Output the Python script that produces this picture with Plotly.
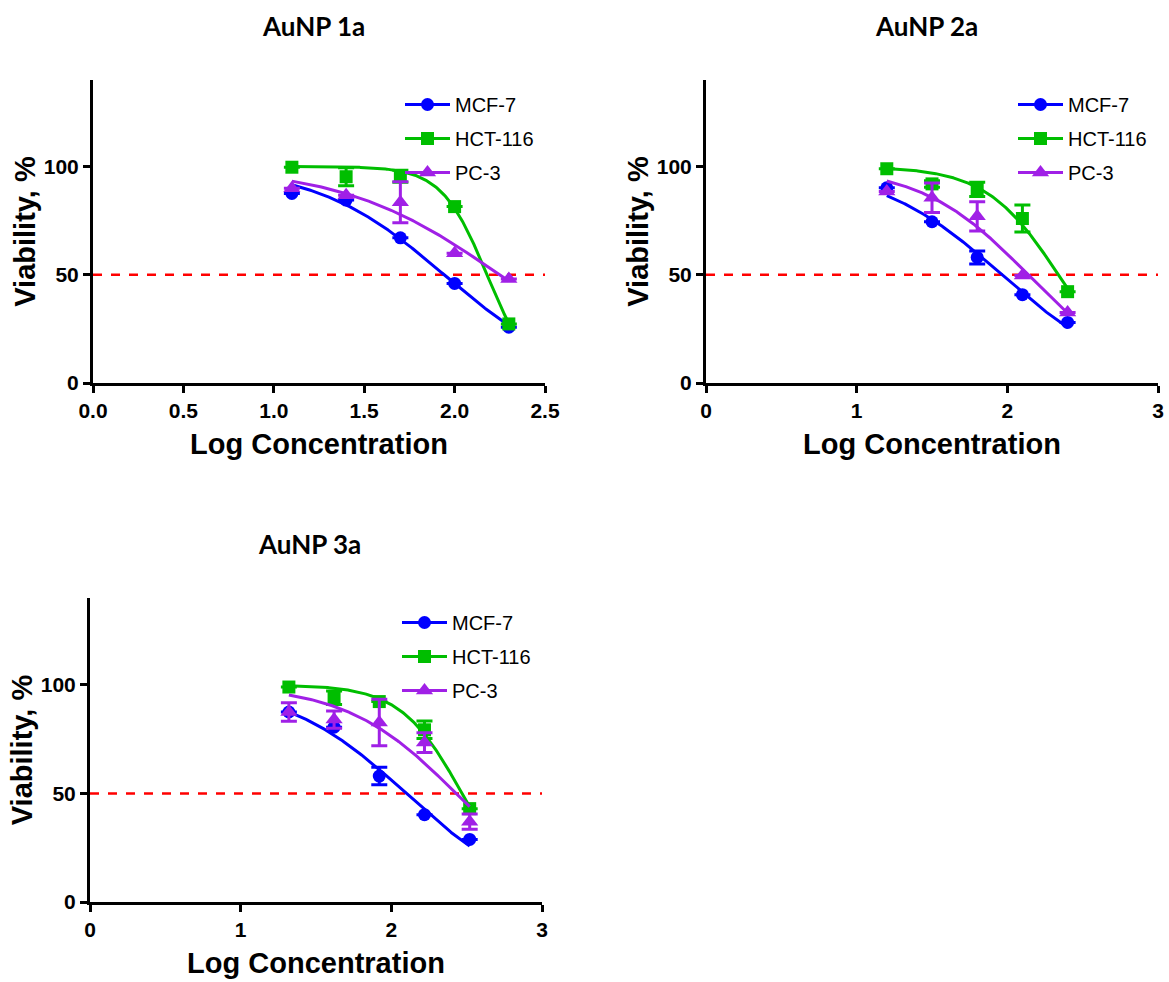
import numpy as np
import plotly.graph_objects as go

# ---- data -------------------------------------------------------------
CELL_LINES = ["MCF-7", "HCT-116", "PC-3"]
PANEL_TITLES = ["AuNP 1a", "AuNP 2a", "AuNP 3a"]

# log concentration for each panel
logc_1a = [1.1, 1.4, 1.7, 2.0, 2.3]
logc_2a = [1.2, 1.5, 1.8, 2.1, 2.4]
logc_3a = [1.32, 1.62, 1.92, 2.22, 2.52]

# mean viability (%) and error (SEM); None where the bar is hidden by the symbol
mcf7_1a = [87.6, 84.5, 67.1, 46.0, 25.8]
mcf7_1a_err = [None, None, None, None, None]
hct116_1a = [99.7, 95.3, 95.5, 81.5, 27.3]
hct116_1a_err = [None, 4.2, 2.8, None, None]
pc3_1a = [90.0, 86.8, 83.5, 60.0, 48.0]
pc3_1a_err = [None, None, 9.5, None, None]

mcf7_2a = [90.2, 74.5, 58.0, 40.8, 28.0]
mcf7_2a_err = [None, None, 3.0, None, None]
hct116_2a = [99.0, 92.0, 89.5, 76.0, 42.2]
hct116_2a_err = [None, 1.5, 3.3, 6.2, None]
pc3_2a = [88.5, 85.6, 77.0, 49.7, 32.6]
pc3_2a_err = [None, 6.8, 6.8, None, None]

mcf7_3a = [87.5, 80.5, 58.0, 40.2, 28.8]
mcf7_3a_err = [None, None, 4.0, None, None]
hct116_3a = [99.0, 94.1, 92.3, 79.3, 43.0]
hct116_3a_err = [None, 3.1, None, 4.0, None]
pc3_3a = [87.5, 84.0, 82.7, 73.4, 37.0]
pc3_3a_err = [4.3, 4.0, 10.7, 4.5, 3.5]

X_TICKS_1a = [0.0, 0.5, 1.0, 1.5, 2.0, 2.5]
X_TICKS_23 = [0, 1, 2, 3]
Y_TICKS = [0, 50, 100]
THRESHOLD = 50

# ---- styling ----------------------------------------------------------
COLORS = {"MCF-7": "rgb(0,0,255)", "HCT-116": "rgb(0,190,0)", "PC-3": "rgb(160,32,230)"}
SYMBOLS = {"MCF-7": "circle", "HCT-116": "square", "PC-3": "triangle-up"}
SIZES = {"MCF-7": 13, "HCT-116": 13, "PC-3": 15}
W, H = 1169, 982


def fit_inhibition(x, y):
    """Least-squares fit of log(inhibitor) vs response (top 100, bottom 0)."""
    x = np.asarray(x, float)
    y = np.asarray(y, float)
    c_grid = np.linspace(0.5, 4.0, 701)
    h_grid = np.linspace(0.2, 8.0, 781)
    for _ in range(2):
        c = c_grid[:, None, None]
        h = h_grid[None, :, None]
        pred = 100.0 / (1.0 + 10.0 ** ((x[None, None, :] - c) * h))
        sse = ((pred - y) ** 2).sum(-1)
        i, j = np.unravel_index(np.argmin(sse), sse.shape)
        bc, bh = c_grid[i], h_grid[j]
        dc, dh = c_grid[1] - c_grid[0], h_grid[1] - h_grid[0]
        c_grid = np.linspace(bc - dc, bc + dc, 201)
        h_grid = np.linspace(max(bh - dh, 0.01), bh + dh, 201)
    xs = np.linspace(x.min(), x.max(), 200)
    return xs, 100.0 / (1.0 + 10.0 ** ((xs - bc) * bh))


panels = [
    dict(x=logc_1a, series={"MCF-7": (mcf7_1a, mcf7_1a_err),
                            "HCT-116": (hct116_1a, hct116_1a_err),
                            "PC-3": (pc3_1a, pc3_1a_err)},
         xrange=[0, 2.5], xticks=X_TICKS_1a, fmt=".1f",
         dom_x=(93, 545), dom_y=(80, 383)),
    dict(x=logc_2a, series={"MCF-7": (mcf7_2a, mcf7_2a_err),
                            "HCT-116": (hct116_2a, hct116_2a_err),
                            "PC-3": (pc3_2a, pc3_2a_err)},
         xrange=[0, 3], xticks=X_TICKS_23, fmt="d",
         dom_x=(706, 1158), dom_y=(80, 383)),
    dict(x=logc_3a, series={"MCF-7": (mcf7_3a, mcf7_3a_err),
                            "HCT-116": (hct116_3a, hct116_3a_err),
                            "PC-3": (pc3_3a, pc3_3a_err)},
         xrange=[0, 3], xticks=X_TICKS_23, fmt="d",
         dom_x=(90, 542), dom_y=(598, 902)),
]

fig = go.Figure()
layout = dict(width=W, height=H, margin=dict(l=0, r=0, t=0, b=0, autoexpand=False),
              paper_bgcolor="white", plot_bgcolor="white", showlegend=True,
              annotations=[], shapes=[])

tick_font = dict(family="Liberation Sans, Arial", size=21, color="black", weight="bold")
title_font = dict(family="Liberation Sans, Arial", size=29, color="black", weight="bold")

for k, p in enumerate(panels):
    n = "" if k == 0 else str(k + 1)
    xa, ya = "x" + n, "y" + n
    leg = "legend" + n
    x0, x1 = p["dom_x"]
    ytop, ybot = p["dom_y"]

    for name, (vals, errs) in p["series"].items():
        col = COLORS[name]
        cx, cy = fit_inhibition(p["x"], vals)
        fig.add_trace(go.Scatter(x=cx, y=cy, mode="lines", xaxis=xa, yaxis=ya,
                                 line=dict(color=col, width=3),
                                 showlegend=False, hoverinfo="skip"))
        fig.add_trace(go.Scatter(x=p["x"], y=vals, mode="markers", xaxis=xa, yaxis=ya,
                                 marker=dict(color=col, symbol=SYMBOLS[name], size=SIZES[name]),
                                 error_y=dict(type="data", array=errs, color=col,
                                              thickness=3, width=8),
                                 showlegend=False))
        fig.add_trace(go.Scatter(x=[None], y=[None], mode="lines+markers", name=name,
                                 xaxis=xa, yaxis=ya, legend=leg, legendgroup=name + n,
                                 line=dict(color=col, width=3),
                                 marker=dict(color=col, symbol=SYMBOLS[name], size=SIZES[name])))

    layout["xaxis" + n] = dict(
        domain=[x0 / W, x1 / W], anchor=ya, range=p["xrange"], automargin=False,
        tickvals=p["xticks"], tickformat=p["fmt"], ticks="outside", ticklen=7,
        tickwidth=3, tickcolor="black", showline=True, linewidth=3, linecolor="black",
        showgrid=False, zeroline=False, tickfont=tick_font,
        title=dict(text="Log Concentration", font=title_font, standoff=13))
    layout["yaxis" + n] = dict(
        domain=[1 - ybot / H, 1 - ytop / H], anchor=xa, range=[0, 140], automargin=False,
        tickvals=Y_TICKS, ticks="outside", ticklen=7, tickwidth=3, tickcolor="black",
        showline=True, linewidth=3, linecolor="black", showgrid=False, zeroline=False,
        tickfont=tick_font,
        title=dict(text="Viability, %", font=title_font, standoff=0))
    layout[leg] = dict(
        x=(x1 - 145) / W, xanchor="left", y=1 - (ytop + 5) / H, yanchor="top",
        bgcolor="rgba(0,0,0,0)", borderwidth=0, tracegroupgap=5, itemwidth=45,
        font=dict(family="Liberation Sans, Arial", size=20, color="black"))

    layout["shapes"].append(dict(type="line", xref=xa + " domain", yref=ya,
                                 x0=0, x1=1, y0=THRESHOLD, y1=THRESHOLD,
                                 line=dict(color="red", width=2.5, dash="dash"), layer="below"))
    layout["annotations"].append(dict(
        text=PANEL_TITLES[k], xref="paper", yref="paper", showarrow=False,
        x=(x0 + x1) / 2 / W - 6 / W, y=1 - (ytop - 54) / H, xanchor="center", yanchor="middle",
        font=dict(family="Lato", size=26, color="black", weight="bold")))

fig.update_layout(**layout)
fig.write_html("out.html")
